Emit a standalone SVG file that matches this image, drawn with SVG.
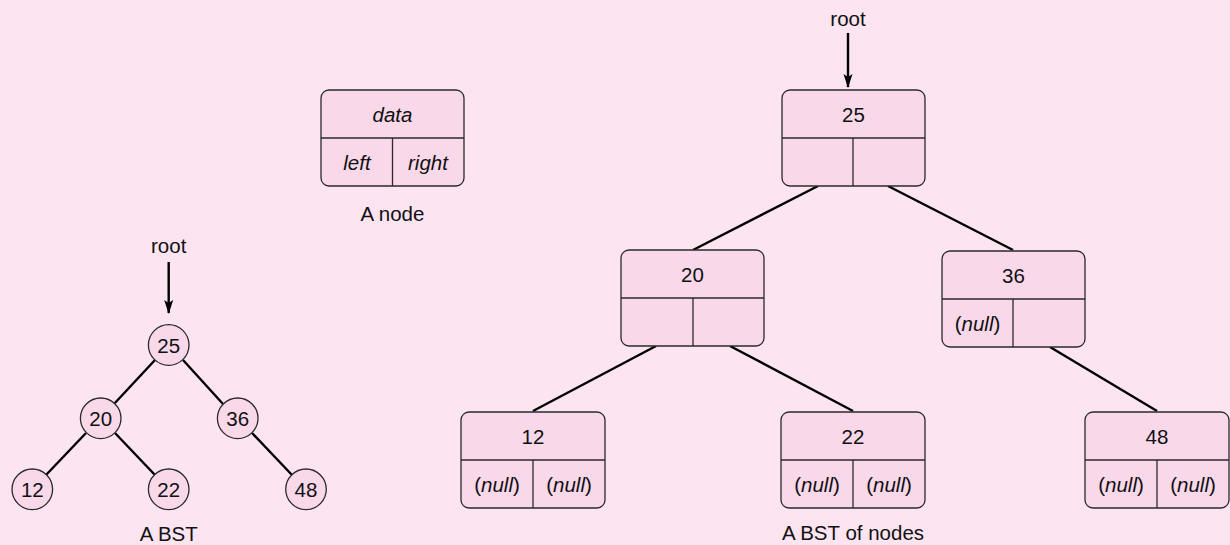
<svg xmlns="http://www.w3.org/2000/svg" width="1230" height="545" viewBox="0 0 1230 545">
<defs>
<marker id="ah" markerWidth="14" markerHeight="10" refX="13" refY="5" orient="auto" markerUnits="userSpaceOnUse">
<path d="M0,0.5 L14,5 L0,9.5 L3,5 Z" fill="#000"/>
</marker>
<style>
.box{fill:#f9d8ea;stroke:#2a2a2a;stroke-width:1.3}
.div{stroke:#2a2a2a;stroke-width:1.3;fill:none}
.t{font-family:"Liberation Sans",Arial,sans-serif;font-size:20.5px;fill:#111;text-anchor:middle;dominant-baseline:central}
.i{font-style:italic}
.edge{stroke:#000;stroke-width:2.4;fill:none}
.circ{fill:#f9d8ea;stroke:#2a2a2a;stroke-width:1.3}
</style>
</defs>
<rect width="1230" height="545" fill="#fce4f1"/>

<g id="legend-node">
<rect class="box" x="321" y="90" width="143" height="96" rx="8"/>
<line class="div" x1="321" y1="138" x2="464" y2="138"/>
<line class="div" x1="392.5" y1="138" x2="392.5" y2="186"/>
<text class="t i" x="392.5" y="114">data</text>
<text class="t i" x="357" y="162">left</text>
<text class="t i" x="428" y="162">right</text>
<text class="t" x="392.5" y="213">A node</text>
</g>

<g id="connectors">
<line class="edge" x1="168.7" y1="262" x2="168.7" y2="313" marker-end="url(#ah)"/>
<line class="edge" x1="848" y1="33" x2="848" y2="87" marker-end="url(#ah)"/>
<line class="edge" x1="155" y1="360" x2="114" y2="404"/>
<line class="edge" x1="183" y1="360" x2="223" y2="404"/>
<line class="edge" x1="86" y1="433" x2="46" y2="475"/>
<line class="edge" x1="115" y1="433" x2="155" y2="475"/>
<line class="edge" x1="252" y1="433" x2="292" y2="475"/>
<line class="edge" x1="818" y1="186" x2="693" y2="250"/>
<line class="edge" x1="888" y1="186" x2="1013" y2="250"/>
<line class="edge" x1="656" y1="346" x2="533" y2="411"/>
<line class="edge" x1="730" y1="346" x2="853" y2="411"/>
<line class="edge" x1="1050" y1="347" x2="1157" y2="411"/>
</g>

<g id="bst-labels">
<text class="t" x="168.7" y="245">root</text>
<text class="t" x="168.7" y="533">A BST</text>
<text class="t" x="848" y="18">root</text>
<text class="t" x="853" y="532">A BST of nodes</text>
</g>

<g id="c25"><circle class="circ" cx="168.7" cy="345" r="20.3"/><text class="t" x="168.7" y="345">25</text></g>
<g id="c20"><circle class="circ" cx="100.7" cy="418.3" r="20.3"/><text class="t" x="100.7" y="418.3">20</text></g>
<g id="c36"><circle class="circ" cx="237.7" cy="418.3" r="20.3"/><text class="t" x="237.7" y="418.3">36</text></g>
<g id="c12"><circle class="circ" cx="32.3" cy="489.3" r="20.3"/><text class="t" x="32.3" y="489.3">12</text></g>
<g id="c22"><circle class="circ" cx="168.7" cy="489.3" r="20.3"/><text class="t" x="168.7" y="489.3">22</text></g>
<g id="c48"><circle class="circ" cx="306" cy="489.3" r="20.3"/><text class="t" x="306" y="489.3">48</text></g>

<g id="n25">
<rect class="box" x="782" y="90" width="143" height="96" rx="8"/>
<line class="div" x1="782" y1="138" x2="925" y2="138"/>
<line class="div" x1="853" y1="138" x2="853" y2="186"/>
<text class="t" x="853.5" y="114">25</text>
</g>

<g id="n20">
<rect class="box" x="621" y="250" width="143" height="96" rx="8"/>
<line class="div" x1="621" y1="298" x2="764" y2="298"/>
<line class="div" x1="693" y1="298" x2="693" y2="346"/>
<text class="t" x="692.5" y="274">20</text>
</g>

<g id="n36">
<rect class="box" x="942" y="251" width="143" height="96" rx="8"/>
<line class="div" x1="942" y1="299" x2="1085" y2="299"/>
<line class="div" x1="1013" y1="299" x2="1013" y2="347"/>
<text class="t" x="1013.5" y="275">36</text>
<text class="t" x="977.5" y="323">(<tspan class="i">null</tspan>)</text>
</g>

<g id="n12">
<rect class="box" x="461" y="412" width="144" height="96" rx="8"/>
<line class="div" x1="461" y1="460" x2="605" y2="460"/>
<line class="div" x1="533" y1="460" x2="533" y2="508"/>
<text class="t" x="533" y="436">12</text>
<text class="t" x="497" y="484">(<tspan class="i">null</tspan>)</text>
<text class="t" x="569" y="484">(<tspan class="i">null</tspan>)</text>
</g>

<g id="n22">
<rect class="box" x="781" y="412" width="144" height="96" rx="8"/>
<line class="div" x1="781" y1="460" x2="925" y2="460"/>
<line class="div" x1="853" y1="460" x2="853" y2="508"/>
<text class="t" x="853" y="436">22</text>
<text class="t" x="817" y="484">(<tspan class="i">null</tspan>)</text>
<text class="t" x="889" y="484">(<tspan class="i">null</tspan>)</text>
</g>

<g id="n48">
<rect class="box" x="1085" y="412" width="144" height="96" rx="8"/>
<line class="div" x1="1085" y1="460" x2="1229" y2="460"/>
<line class="div" x1="1157" y1="460" x2="1157" y2="508"/>
<text class="t" x="1157" y="436">48</text>
<text class="t" x="1121" y="484">(<tspan class="i">null</tspan>)</text>
<text class="t" x="1193" y="484">(<tspan class="i">null</tspan>)</text>
</g>
</svg>
